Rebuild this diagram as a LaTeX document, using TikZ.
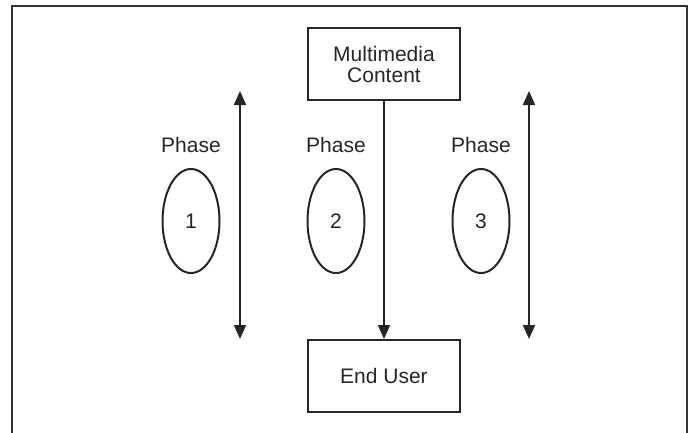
\documentclass[tikz,border=0pt]{standalone}
\usepackage{fontspec}
\setmainfont{Liberation Sans}
\usetikzlibrary{arrows.meta,shapes.geometric}
\begin{document}
\begin{tikzpicture}[x=1pt,y=-1pt,
  every node/.style={font=\fontsize{21}{25}\selectfont, text=black!85},
  box/.style={draw=black!85, line width=2pt, minimum width=152pt, minimum height=72pt, align=center, inner sep=0pt},
  oval/.style={draw=black!85, line width=2pt, ellipse, minimum width=57pt, minimum height=104pt, inner sep=0pt},
  conn/.style={draw=black!85, line width=2pt, -{Triangle[length=14pt,width=12pt]}},
  dconn/.style={draw=black!85, line width=2pt, {Triangle[length=14pt,width=12pt]}-{Triangle[length=14pt,width=12pt]}}]
\useasboundingbox (0,0) rectangle (689,432);
\fill[white] (0,0) rectangle (689,432);
\draw[black!80, line width=1.5pt] (12,440) -- (12,6) -- (687,6) -- (687,440);
\node[box] (mc) at (384,64) {Multimedia\\[-4pt]Content};
\node[box] (eu) at (384,376) {End User};
\draw[conn] (mc.south) -- (eu.north);
\node (p1) at (191,145) {Phase};
\node (p2) at (336,145) {Phase};
\node (p3) at (481,145) {Phase};
\node[oval] (o1) at (191,221) {1};
\node[oval] (o2) at (336,221) {2};
\node[oval] (o3) at (481,221) {3};
\coordinate (a1t) at (240,91);
\coordinate (a1b) at (240,339);
\coordinate (a3t) at (529,91);
\coordinate (a3b) at (529,339);
\draw[dconn] (a1t) -- (a1b);
\draw[dconn] (a3t) -- (a3b);
\end{tikzpicture}
\end{document}
